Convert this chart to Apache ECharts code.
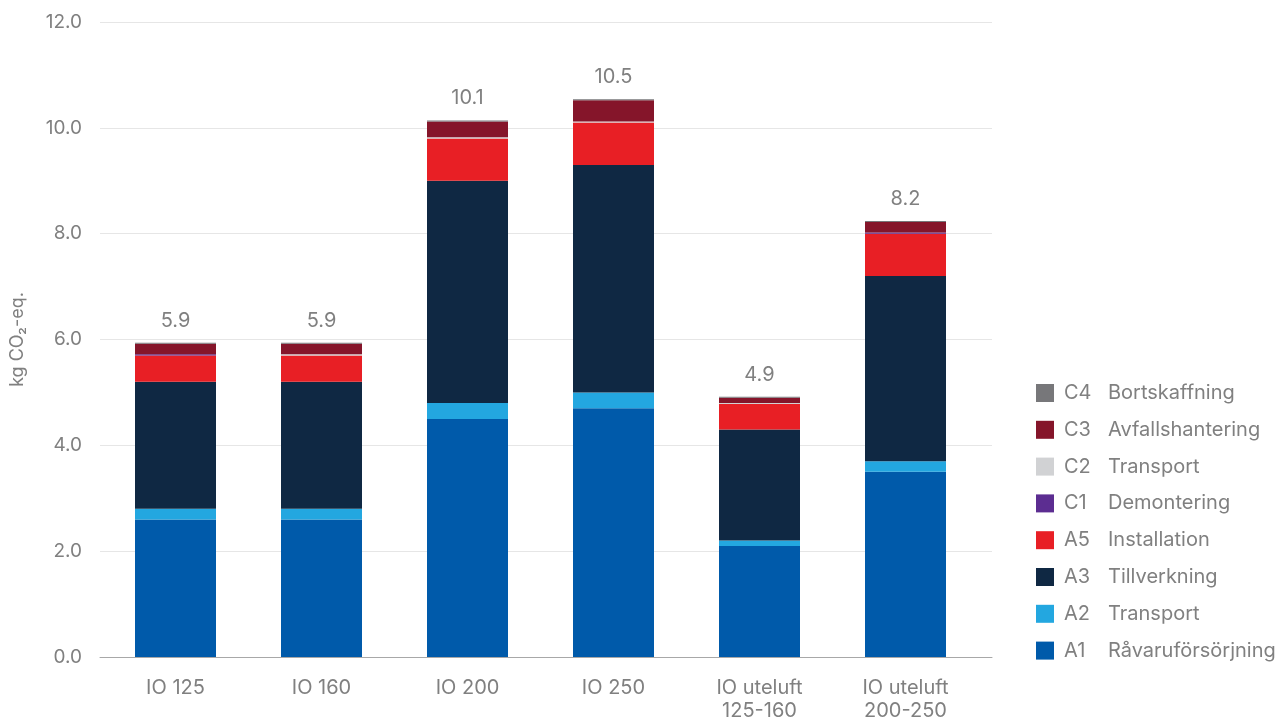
<!DOCTYPE html>
<html>
<head>
<meta charset="utf-8">
<script src="https://cdn.jsdelivr.net/npm/echarts@6/dist/echarts.min.js"></script>
<style>
html,body{margin:0;padding:0;background:#fff;}
#chart{width:1279px;height:722px;}
</style>
</head>
<body>
<div id="chart"></div>
<script>
const categories = ['IO 125', 'IO 160', 'IO 200', 'IO 250', 'IO uteluft\n125-160', 'IO uteluft\n200-250'];
const yTicks = [0, 2, 4, 6, 8, 10, 12];

const A1 = [2.6, 2.6, 4.5, 4.7, 2.1, 3.5];
const A2 = [0.2, 0.2, 0.3, 0.3, 0.1, 0.2];
const A3 = [2.4, 2.4, 4.2, 4.3, 2.1, 3.5];
const A5 = [0.5, 0.5, 0.8, 0.8, 0.48, 0.8];
const C1 = [0.02, 0, 0, 0, 0, 0.02];
const C2 = [0, 0.02, 0.02, 0.02, 0.02, 0];
const C3 = [0.2, 0.2, 0.3, 0.4, 0.1, 0.2];
const C4 = [0.02, 0.02, 0.02, 0.02, 0.02, 0.02];

const seriesDefs = [
  { code: 'A1', name: 'Råvaruförsörjning', data: A1, color: '#005aaa' },
  { code: 'A2', name: 'Transport', data: A2, color: '#23a7e0' },
  { code: 'A3', name: 'Tillverkning', data: A3, color: '#0f2843' },
  { code: 'A5', name: 'Installation', data: A5, color: '#e81f25' },
  { code: 'C1', name: 'Demontering', data: C1, color: '#5c2d91' },
  { code: 'C2', name: 'Transport', data: C2, color: '#d1d2d4' },
  { code: 'C3', name: 'Avfallshantering', data: C3, color: '#85152a' },
  { code: 'C4', name: 'Bortskaffning', data: C4, color: '#77777a' }
];

const totals = categories.map((c, i) => seriesDefs.reduce((s, d) => s + d.data[i], 0));

const FONT = 'Inter, "DejaVu Sans", sans-serif';
const TXT = '#808080';

const series = seriesDefs.map((d, idx) => {
  const s = {
    name: d.code + ' ' + d.name,
    type: 'bar',
    stack: 'total',
    xAxisIndex: 0,
    yAxisIndex: 0,
    barWidth: 81,
    data: d.data,
    itemStyle: { color: d.color },
    emphasis: { disabled: true }
  };
  if (idx === seriesDefs.length - 1) {
    s.label = {
      show: true,
      position: 'top',
      distance: 12,
      color: TXT,
      fontFamily: FONT,
      fontSize: 20,
      formatter: p => totals[p.dataIndex].toFixed(1)
    };
  }
  return s;
});

const chart = echarts.init(document.getElementById('chart'), null, { renderer: 'canvas' });
chart.setOption({
  animation: false,
  backgroundColor: '#fff',
  textStyle: { fontFamily: FONT },
  grid: [
    { left: 102.5, right: 300.5, top: 22, bottom: 65 },
    { left: 100, right: 287, top: 22, bottom: 65 }
  ],
  xAxis: [
    {
      type: 'category', gridIndex: 0, data: categories,
      axisLine: { show: false }, axisTick: { show: false },
      axisLabel: { color: TXT, fontFamily: FONT, fontSize: 20, lineHeight: 23, margin: 19, interval: 0 }
    },
    {
      type: 'value', gridIndex: 1, min: 0, max: 1,
      axisLine: { show: true, onZero: false, lineStyle: { color: '#a8a8a8', width: 1 } },
      axisTick: { show: false }, axisLabel: { show: false }, splitLine: { show: false }
    }
  ],
  yAxis: [
    {
      type: 'value', gridIndex: 0, min: yTicks[0], max: yTicks[yTicks.length - 1], interval: 2,
      axisLine: { show: false }, axisTick: { show: false }, axisLabel: { show: false }, splitLine: { show: false }
    },
    {
      type: 'value', gridIndex: 1, min: yTicks[0], max: yTicks[yTicks.length - 1], interval: 2,
      name: 'kg CO₂-eq.', nameLocation: 'middle', nameGap: 73, nameRotate: 90,
      nameTextStyle: { color: TXT, fontFamily: FONT, fontSize: 18 },
      axisLine: { show: false }, axisTick: { show: false },
      axisLabel: { color: TXT, fontFamily: FONT, fontSize: 19, margin: 18, formatter: v => v.toFixed(1) },
      splitLine: { show: true, lineStyle: { color: '#e6e6e6', width: 1 } }
    }
  ],
  legend: {
    orient: 'vertical',
    left: 1031,
    top: 378,
    itemWidth: 18,
    itemHeight: 18,
    itemGap: 16.8,
    icon: 'rect',
    selectedMode: false,
    data: seriesDefs.slice().reverse().map(d => d.code + ' ' + d.name),
    formatter: n => {
      const i = n.indexOf(' ');
      return '{c|' + n.slice(0, i) + '}{n|' + n.slice(i + 1) + '}';
    },
    textStyle: {
      color: TXT, fontFamily: FONT, fontSize: 20, padding: [0, 0, 0, 5],
      rich: {
        c: { color: TXT, fontFamily: FONT, fontSize: 20, width: 44 },
        n: { color: TXT, fontFamily: FONT, fontSize: 20 }
      }
    }
  },
  series: series
});
</script>
</body>
</html>
